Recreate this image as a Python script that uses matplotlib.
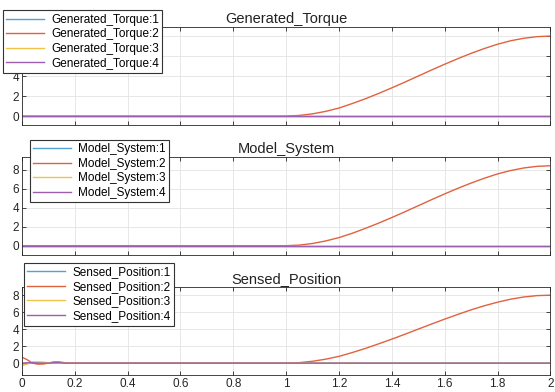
import numpy as np
import matplotlib
matplotlib.use("Agg")
import matplotlib.pyplot as plt

plt.rcParams["font.family"] = ["Liberation Sans", "DejaVu Sans"]

# values
RAMP_T = [1.0, 1.05, 1.1, 1.15, 1.2, 1.25, 1.3, 1.35, 1.4, 1.45, 1.5,
          1.55, 1.6, 1.65, 1.7, 1.75, 1.8, 1.85, 1.9, 1.95, 2.0]
TORQUE_2 = [0, 0.06, 0.22, 0.47, 0.8, 1.25, 1.73, 2.26, 2.82, 3.4, 4.0,
            4.6, 5.18, 5.74, 6.27, 6.75, 7.18, 7.53, 7.78, 7.94, 8.0]
MODEL_2 = [0, 0.06, 0.23, 0.5, 0.85, 1.3, 1.82, 2.37, 2.96, 3.57, 4.2,
           4.83, 5.44, 6.03, 6.58, 7.09, 7.54, 7.9, 8.17, 8.34, 8.4]
SENSED_2_RAMP = [0, 0.06, 0.22, 0.47, 0.8, 1.25, 1.74, 2.28, 2.84, 3.42, 4.02,
                 4.62, 5.2, 5.76, 6.3, 6.78, 7.2, 7.56, 7.82, 7.98, 8.03]

# start-up transient of the sensed signals
EARLY_T = [0, 0.02, 0.04, 0.06, 0.08, 0.1, 0.12, 0.14, 0.16, 0.18, 0.2, 0.25]
SENSED_1_EARLY = [-0.1, -0.05, 0.05, 0.05, 0.02, 0, 0, 0, 0, 0, 0, 0]
SENSED_2_EARLY = [0.7, 0.4, 0.0, -0.12, -0.1, 0.0, 0.15, 0.15, 0.06, 0.02, 0.0, 0.0]
SENSED_3_EARLY = [-0.3, -0.1, 0.15, 0.15, 0.12, 0.05, 0.0, -0.02, 0.0, 0.0, 0.0, 0.0]
SENSED_4_EARLY = [0.0, 0.05, 0.05, 0.0, 0.0, 0.0, 0.05, 0.05, 0.0, 0.0, 0.0, 0.0]

COLORS = ["#4fa3d6", "#e0623f", "#efc24a", "#9a5fae"]

flat_t = [0, 2]
flat_v = [0, 0]

panels = [
    ("Generated_Torque", [(flat_t, flat_v), (flat_t[:1] + RAMP_T, [0] + TORQUE_2),
                          (flat_t, flat_v), (flat_t, flat_v)],
     (-0.9, 8.9), [0.0396, 0.681, 0.952, 0.25], (-0.006, 0.989)),
    ("Model_System", [(flat_t, flat_v), (flat_t[:1] + RAMP_T, [0] + MODEL_2),
                      (flat_t, flat_v), (flat_t, flat_v)],
     (-1.0, 9.3), [0.0396, 0.349, 0.952, 0.25], (0.043, 0.659)),
    ("Sensed_Position", [(EARLY_T + [2], SENSED_1_EARLY + [0]),
                         (EARLY_T + RAMP_T, SENSED_2_EARLY + SENSED_2_RAMP),
                         (EARLY_T + [2], SENSED_3_EARLY + [0]),
                         (EARLY_T + [2], SENSED_4_EARLY + [0])],
     (-1.4, 9.0), [0.0396, 0.0434, 0.952, 0.2245], (0.032, 0.345)),
]

fig = plt.figure(figsize=(5.55, 3.92), dpi=100)
for i, (name, series, ylim, rect, leg_xy) in enumerate(panels):
    ax = fig.add_axes(rect)
    for k, (t, v) in enumerate(series):
        ax.plot(t, v, color=COLORS[k], lw=1.0, label=f"{name}:{k + 1}")
    ax.set_xlim(0, 2)
    ax.set_ylim(*ylim)
    ax.set_xticks(np.arange(0, 2.01, 0.2))
    ax.set_yticks([0, 2, 4, 6, 8])
    ax.grid(color="#e3e3e3", lw=0.6)
    ax.tick_params(direction="in", length=3, width=0.6, top=True, right=True,
                   labelsize=8.5, colors="#262626", pad=2)
    if i < 2:
        ax.set_xticklabels([])
    else:
        ax.set_xticklabels(["0", "0.2", "0.4", "0.6", "0.8", "1", "1.2",
                            "1.4", "1.6", "1.8", "2"])
    for s in ax.spines.values():
        s.set_color("#262626")
        s.set_linewidth(0.6)
    ax.set_title(name, fontsize=10.5, pad=3, color="#222222")
    leg = ax.legend(loc="upper left", bbox_to_anchor=leg_xy,
                    bbox_transform=fig.transFigure, fontsize=8.5,
                    handlelength=3.2, labelspacing=0.22, borderpad=0.3,
                    handletextpad=0.6, fancybox=False, framealpha=1)
    leg.get_frame().set_edgecolor("#333333")
    leg.get_frame().set_linewidth(0.8)

fig.savefig("out.png", dpi=100)
